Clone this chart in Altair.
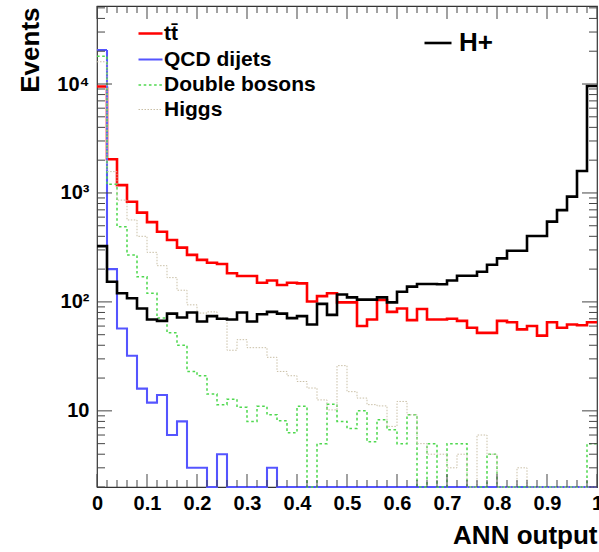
import altair as alt
import pandas as pd

# ---------------- data ----------------
bin_edges = [round(i * 0.02, 2) for i in range(51)]

ttbar = [9500, 2040, 1180, 830, 660, 540, 440, 370, 315, 270,
         243, 229, 223, 183, 173, 173, 150, 157, 143, 150,
         148, 101, 113, 120, 99, 99, 60, 69, 104, 81,
         87, 68, 86, 69, 69, 70, 67, 58, 52, 52,
         67, 65, 56, 60, 49, 65, 58, 62, 61, 65]

qcd = [20500, 200, 57, 32, 16, 11.9, 14, 6, 8, 3,
       3, 0, 4, 0, 0, 0, 0, 3, 0, 0,
       0, 0, 0, 0, 0, 0, 0, 0, 0, 0,
       0, 0, 0, 0, 0, 0, 0, 0, 0, 0,
       0, 0, 0, 0, 0, 0, 0, 0, 0, 0]

dibosons = [18000, 1200, 490, 270, 170, 120, 71, 52, 40, 23,
            21, 14.3, 11.4, 12.8, 10.8, 8, 11, 9.2, 8.1, 6.3,
            11, 0, 5, 11.5, 8, 6.9, 10, 5.2, 8.3, 6.7,
            5, 9.2, 0, 5, 0, 5, 5, 0, 0, 4,
            0, 0, 0, 0, 0, 0, 0, 0, 0, 5]

higgs = [16000, 1570, 860, 565, 400, 285, 215, 167, 128, 94,
         79, 81, 71, 36, 45, 38, 38, 31, 23, 21,
         18.6, 16.2, 12.6, 10.2, 26, 15, 13.1, 11.4, 11.1, 7.2,
         12.2, 9.2, 5, 4, 4, 3, 4, 0, 6, 4,
         0, 0, 3, 0, 0, 0, 0, 0, 0, 0]

hplus = [325, 153, 120, 108, 87, 69, 67, 78, 72, 80,
         66, 74, 70, 69, 80, 66, 77, 81, 78, 71,
         74, 62, 96, 76, 117, 110, 105, 105, 110, 99,
         124, 138, 146, 146, 145, 157, 174, 174, 189, 219,
         251, 295, 295, 403, 403, 546, 695, 925, 1590, 9600]

series_names = ["t\u0074\u0304", "QCD dijets", "Double bosons", "Higgs"]
series_values = [ttbar, qcd, dibosons, higgs]
series_colors = ["#ff0000", "#5555ff", "#4fd84f", "#c9bfa6"]
series_dash = [[1, 0], [1, 0], [2.6, 2.6], [1.5, 1.5]]
series_width = [2.6, 1.0, 2.6, 1.6]

signal_name = "H+"

x_major = [0, 0.1, 0.2, 0.3, 0.4, 0.5, 0.6, 0.7, 0.8, 0.9, 1]
x_minor = [round(i * 0.02, 2) for i in range(51) if i % 5 != 0]
y_major = [10, 100, 1000, 10000]
y_minor = [m * d for d in [1, 10, 100, 1000, 10000] for m in range(2, 10) if m * d <= 50000]
y_label_text = {10: "10", 100: "10²", 1000: "10³", 10000: "10⁴"}

Y_MIN, Y_MAX = 2, 52000
W, H = 500, 481
FONT = "Liberation Sans"
TICK_COLOR = "#444444"

# ---------------- tables ----------------
def make_rows(name, vals, field):
    rows = []
    for i, e in enumerate(bin_edges):
        v = vals[min(i, len(vals) - 1)]
        rows.append({field: name, "edge": e, "events": v,
                     "plot": v if v > 0 else Y_MIN / 4})
    return pd.DataFrame(rows)

bg_frames = {n: make_rows(n, v, "series") for n, v in zip(series_names, series_values)}
sig_frame = make_rows(signal_name, hplus, "sig")

xs = alt.Scale(domain=[0, 1], nice=False, zero=False)
ys = alt.Scale(type="log", domain=[Y_MIN, Y_MAX], nice=False, clamp=True)

y_label_expr = " : ".join(
    [f"datum.value == {k} ? '{v}'" for k, v in y_label_text.items()]) + " : ''"

x_main = alt.Axis(orient="bottom", values=x_major, format="~g", ticks=False, domain=False,
                  grid=False, labelFont=FONT, labelFontWeight="bold", labelFontSize=20,
                  labelColor="black", labelPadding=6, labelFlush=False,
                  title="ANN output", titleFont=FONT, titleFontWeight="bold",
                  titleFontSize=26, titleColor="black", titleAlign="right",
                  titleBaseline="alphabetic", titleX=500, titleY=56, titleAngle=0)
y_main = alt.Axis(orient="left", values=y_major, labelExpr=y_label_expr, ticks=False,
                  domain=False, grid=False, labelFont=FONT, labelFontWeight="bold",
                  labelFontSize=20, labelColor="black", labelPadding=8,
                  title="Events", titleFont=FONT, titleFontWeight="bold", titleFontSize=26,
                  titleColor="black", titleAngle=270, titleAlign="right",
                  titleBaseline="alphabetic", titleX=-59, titleY=1)

bg_legend = alt.Legend(orient="none", legendX=40, legendY=14, title=None,
                       symbolType="stroke", symbolSize=576, labelFont=FONT,
                       labelFontWeight="bold", labelFontSize=21, labelColor="black",
                       rowPadding=2, padding=0, labelOffset=0)
sig_legend = alt.Legend(orient="none", legendX=326, legendY=22, title=None,
                        symbolType="stroke", symbolSize=729, symbolStrokeWidth=2.6,
                        labelFont=FONT, labelFontWeight="bold", labelFontSize=26,
                        labelColor="black", padding=0, labelOffset=6)

color_bg = alt.Scale(domain=series_names, range=series_colors)
dash_bg = alt.Scale(domain=series_names, range=series_dash)
width_bg = alt.Scale(domain=series_names, range=series_width)

X_ENC = dict(scale=xs, axis=x_main)
Y_ENC = dict(scale=ys, axis=y_main)

# inward-pointing ticks on all four frame edges (positions from the tick arrays)
def x_ticks(values, length, top):
    df = pd.DataFrame({"edge": values})
    yc = length / 2 if top else H - length / 2
    return alt.Chart(df).mark_tick(orient="vertical", size=length, thickness=1,
                                   color=TICK_COLOR, opacity=1).encode(
        x=alt.X("edge:Q", **X_ENC), y=alt.value(yc))

def y_ticks(values, length, right):
    df = pd.DataFrame({"plot": values})
    xc = W - length / 2 if right else length / 2
    return alt.Chart(df).mark_tick(orient="horizontal", size=length, thickness=1,
                                   color=TICK_COLOR, opacity=1).encode(
        y=alt.Y("plot:Q", **Y_ENC), x=alt.value(xc))

tick_layers = [
    x_ticks(x_major, 13, False), x_ticks(x_minor, 7, False),
    x_ticks(x_major, 13, True), x_ticks(x_minor, 7, True),
    y_ticks(y_major, 15, False), y_ticks(y_minor, 8, False),
    y_ticks(y_major, 15, True), y_ticks(y_minor, 8, True),
]

bg_layers = []
for name in series_names:
    bg_layers.append(
        alt.Chart(bg_frames[name]).mark_line(interpolate="step-after").encode(
            x=alt.X("edge:Q", **X_ENC),
            y=alt.Y("plot:Q", **Y_ENC),
            color=alt.Color("series:N", scale=color_bg, legend=bg_legend),
            strokeDash=alt.StrokeDash("series:N", scale=dash_bg, legend=bg_legend),
            strokeWidth=alt.StrokeWidth("series:N", scale=width_bg, legend=bg_legend),
        )
    )

bg = alt.layer(*bg_layers)

sig = alt.Chart(sig_frame).mark_line(interpolate="step-after", strokeWidth=2.6).encode(
    x=alt.X("edge:Q", **X_ENC),
    y=alt.Y("plot:Q", **Y_ENC),
    color=alt.Color("sig:N", scale=alt.Scale(domain=[signal_name], range=["#000000"]),
                    legend=sig_legend),
)

chart = alt.layer(bg, sig, *tick_layers).resolve_scale(
    color="independent", strokeDash="independent", strokeWidth="independent"
).properties(
    width=W, height=H,
    padding={"left": 97, "top": 6, "right": 2, "bottom": 65},
    autosize=alt.AutoSizeParams(type="none"),
    background="white",
).configure_view(stroke="#333333", strokeWidth=1.2)

chart.save("out.html", embed_options={"renderer": "svg", "actions": False})
